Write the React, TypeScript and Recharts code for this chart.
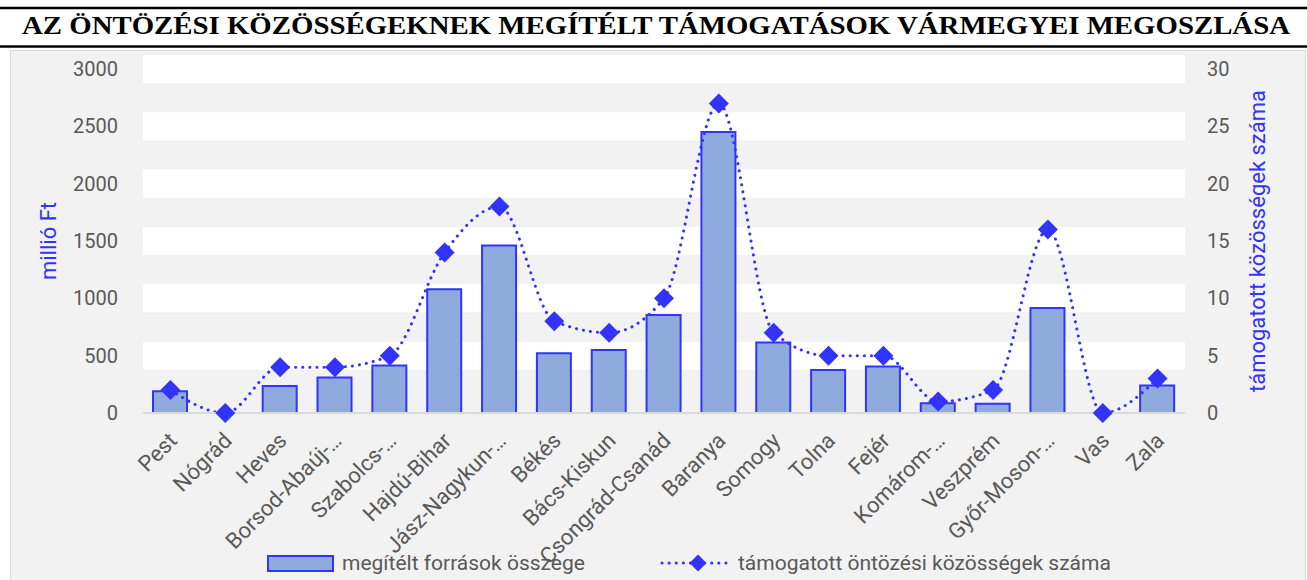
import React from "react";
import {
  ComposedChart,
  Bar,
  Line,
  XAxis,
  YAxis,
  CartesianGrid,
  Legend,
} from "recharts";

const counties = [
  "Pest",
  "Nógrád",
  "Heves",
  "Borsod-Abaúj-…",
  "Szabolcs-…",
  "Hajdú-Bihar",
  "Jász-Nagykun-…",
  "Békés",
  "Bács-Kiskun",
  "Csongrád-Csanád",
  "Baranya",
  "Somogy",
  "Tolna",
  "Fejér",
  "Komárom-…",
  "Veszprém",
  "Győr-Moson-…",
  "Vas",
  "Zala",
];

// million Ft awarded (left axis)
const funds = [190, 0, 235, 310, 415, 1080, 1460, 520, 550, 855, 2450, 615, 375, 405, 85, 80, 915, 0, 240];

// number of supported communities (right axis)
const communities = [2, 0, 4, 4, 5, 14, 18, 8, 7, 10, 27, 7, 5, 5, 1, 2, 16, 0, 3];

const leftTicks = [0, 500, 1000, 1500, 2000, 2500, 3000];
const rightTicks = [0, 5, 10, 15, 20, 25, 30];

const TITLE = "AZ ÖNTÖZÉSI KÖZÖSSÉGEKNEK MEGÍTÉLT TÁMOGATÁSOK VÁRMEGYEI MEGOSZLÁSA";
const BAR_NAME = "megítélt források összege";
const LINE_NAME = "támogatott öntözési közösségek száma";

const data = counties.map((name, i) => ({
  name,
  funds: funds[i],
  communities: communities[i],
}));

const BLUE = "#3333ff";
const BAR_FILL = "#8faadc";
const TEXT = "#595959";
const FONT = "Roboto, 'Open Sans', sans-serif";

const diamondPath = (cx: number, cy: number, r: number) =>
  `M${cx},${cy - r} L${cx + r},${cy} L${cx},${cy + r} L${cx - r},${cy} Z`;

const Diamond = (props: any) => {
  const { cx, cy, index } = props;
  if (cx == null || cy == null) return null;
  return <path key={`d-${index}`} d={diamondPath(cx, cy, 10)} fill={BLUE} />;
};

const XTick = ({ x, y, payload }: any) => (
  <g transform={`translate(${x + 8},${y + 29})`}>
    <text
      textAnchor="end"
      transform="rotate(-45)"
      fill={TEXT}
      fontSize={22}
      fontFamily={FONT}
    >
      {payload.value}
    </text>
  </g>
);

const AxisTitle = ({ viewBox, value, dx }: any) => {
  const cx = viewBox.x + dx;
  const cy = viewBox.y + viewBox.height / 2;
  return (
    <text
      x={cx}
      y={cy}
      transform={`rotate(-90, ${cx}, ${cy})`}
      textAnchor="middle"
      dominantBaseline="central"
      fill={BLUE}
      fontSize={22}
      fontFamily={FONT}
    >
      {value}
    </text>
  );
};

const LegendBox = () => (
  <svg width={1296} height={34} style={{ display: "block" }}>
    <rect x={258} y={10} width={65} height={15} fill={BAR_FILL} stroke={BLUE} strokeWidth={2} />
    <text x={332} y={24} fill={TEXT} fontSize={21} fontFamily={FONT}>
      {BAR_NAME}
    </text>
    <line
      x1={652}
      y1={17}
      x2={722}
      y2={17}
      stroke={BLUE}
      strokeWidth={3}
      strokeDasharray="0.1 7"
      strokeLinecap="round"
    />
    <path d={diamondPath(688, 17, 8.5)} fill={BLUE} />
    <text x={728} y={24} fill={TEXT} fontSize={21} fontFamily={FONT}>
      {LINE_NAME}
    </text>
  </svg>
);

export default function App() {
  return (
    <div
      style={{
        position: "absolute",
        left: 0,
        top: 0,
        width: 1307,
        height: 580,
        background: "#ffffff",
        overflow: "hidden",
      }}
    >
      <svg
        width={1307}
        height={50}
        style={{ position: "absolute", left: 0, top: 0 }}
      >
        <line x1={0} y1={8} x2={1307} y2={8} stroke="#000" strokeWidth={2.5} />
        <text
          x={22}
          y={34}
          textLength={1268}
          lengthAdjust="spacingAndGlyphs"
          fontFamily="'Liberation Serif', 'Times New Roman', serif"
          fontWeight="bold"
          fontSize={25}
          fill="#000"
        >
          {TITLE}
        </text>
        <line x1={0} y1={46.5} x2={1307} y2={46.5} stroke="#000" strokeWidth={2.5} />
      </svg>

      <div
        style={{
          position: "absolute",
          left: 10,
          top: 50,
          width: 1296,
          height: 530,
          background: "#f2f2f2",
          boxShadow: "inset 1px 1px 0 #d9d9d9, inset -1px 0 0 #d9d9d9",
        }}
      >
        <ComposedChart
          width={1296}
          height={530}
          data={data}
          margin={{ top: 19, right: 0, bottom: 0, left: 0 }}
        >
          <CartesianGrid
            yAxisId="left"
            vertical={false}
            horizontalValues={[500, 1000, 1500, 2000, 2500, 3000]}
            stroke="#ffffff"
            strokeWidth={28}
          />
          <XAxis
            dataKey="name"
            interval={0}
            tick={<XTick />}
            tickLine={false}
            tickSize={0}
            tickMargin={0}
            height={133}
            axisLine={{ stroke: "#d9d9d9", strokeWidth: 2 }}
          />
          <YAxis
            yAxisId="left"
            width={133}
            domain={[0, 3000]}
            ticks={leftTicks}
            axisLine={false}
            tickLine={false}
            tickSize={0}
            tickMargin={25}
            tick={{ fill: TEXT, fontSize: 20, fontFamily: FONT }}
            label={(p: any) => <AxisTitle {...p} value="millió Ft" dx={38} />}
          />
          <YAxis
            yAxisId="right"
            orientation="right"
            width={121}
            domain={[0, 30]}
            ticks={rightTicks}
            axisLine={false}
            tickLine={false}
            tickSize={0}
            tickMargin={22}
            tick={{ fill: TEXT, fontSize: 20, fontFamily: FONT }}
            label={(p: any) => (
              <AxisTitle {...p} value="támogatott közösségek száma" dx={72} />
            )}
          />
          <Legend
            verticalAlign="bottom"
            content={<LegendBox />}
            wrapperStyle={{ left: 0, width: 1296, height: 34 }}
          />
          <Bar
            yAxisId="left"
            dataKey="funds"
            name={BAR_NAME}
            barSize={34}
            fill={BAR_FILL}
            stroke={BLUE}
            strokeWidth={2}
            isAnimationActive={false}
          />
          <Line
            yAxisId="right"
            type="monotone"
            dataKey="communities"
            name={LINE_NAME}
            stroke={BLUE}
            strokeWidth={3}
            strokeDasharray="0.1 7"
            strokeLinecap="round"
            dot={<Diamond />}
            activeDot={false}
            isAnimationActive={false}
          />
        </ComposedChart>
      </div>
    </div>
  );
}
